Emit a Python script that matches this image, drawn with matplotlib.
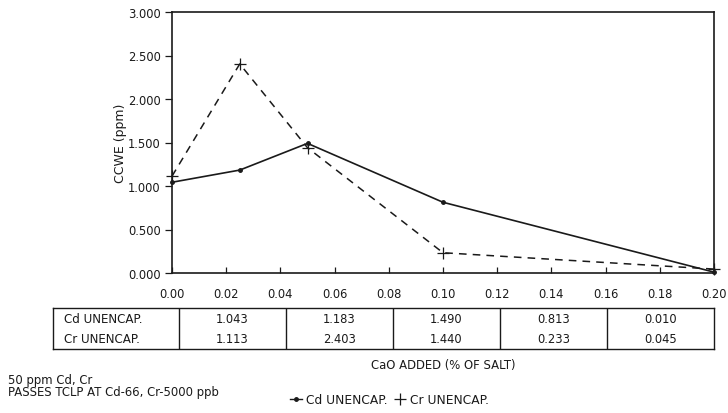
import matplotlib
matplotlib.use("Agg")
import matplotlib.pyplot as plt
from matplotlib.lines import Line2D

cao_added = [0.0, 0.025, 0.05, 0.10, 0.20]
cd_unencap = [1.043, 1.183, 1.490, 0.813, 0.010]
cr_unencap = [1.113, 2.403, 1.440, 0.233, 0.045]
x_ticks = [0.00, 0.02, 0.04, 0.06, 0.08, 0.10, 0.12, 0.14, 0.16, 0.18, 0.20]
y_ticks = [0.0, 0.5, 1.0, 1.5, 2.0, 2.5, 3.0]
table_rows = ["Cd UNENCAP.", "Cr UNENCAP."]

plt.rcParams['font.family'] = ['DejaVu Sans']
ink = '#1a1a1a'

W, H = 728, 414
fig = plt.figure(figsize=(W / 100, H / 100), dpi=100)

# main plot area (pixel box converted to figure fractions)
left, right, top, bottom = 172, 714, 13, 274
ax = fig.add_axes([left / W, 1 - bottom / H, (right - left) / W, (bottom - top) / H])

ax.plot(cao_added, cd_unencap, color=ink, lw=1.2, marker='o', ms=2.5,
        clip_on=False, zorder=3)
ax.plot(cao_added, cr_unencap, color=ink, lw=1.1, ls=(0, (5, 4)), marker='+',
        ms=9, mew=0.9, clip_on=False, zorder=3)

ax.set_xlim(0, 0.2)
ax.set_ylim(0, 3.0)
ax.set_xticks(x_ticks)
ax.set_xticklabels([f"{t:.2f}" for t in x_ticks])
ax.set_yticks(y_ticks)
ax.set_yticklabels([f"{t:.3f}" for t in y_ticks])
ax.tick_params(axis='x', direction='in', length=4, width=0.9, pad=10,
               labelsize=8.3, colors=ink)
ax.tick_params(axis='y', direction='out', length=5, width=0.9, pad=3,
               labelsize=8.3, colors=ink)
for s in ax.spines.values():
    s.set_color(ink)
    s.set_linewidth(1.2)
ax.set_ylabel("CCWE (ppm)", fontsize=9, color=ink, labelpad=1)

# data table below the plot: label column + one column per point, no row rule
t_left, t_right, t_top, t_bottom = 53, 714, 309, 350
tax = fig.add_axes([t_left / W, 1 - t_bottom / H, (t_right - t_left) / W,
                    (t_bottom - t_top) / H])
tax.set_xlim(0, 1)
tax.set_ylim(0, 2)
tax.set_xticks([])
tax.set_yticks([])
for s in tax.spines.values():
    s.set_color(ink)
    s.set_linewidth(1.0)
lab_w = (179 - t_left) / (t_right - t_left)
col_w = (1 - lab_w) / len(cao_added)
bounds = [lab_w + i * col_w for i in range(len(cao_added))]
for b in bounds:
    tax.axvline(b, color=ink, lw=1.0)
for r, (name, vals) in enumerate(zip(table_rows, [cd_unencap, cr_unencap])):
    yy = 1.5 - r
    tax.text(0.016, yy, name, ha='left', va='center', fontsize=8.6, color=ink)
    for i, v in enumerate(vals):
        tax.text(bounds[i] + col_w / 2, yy, f"{v:.3f}", ha='center',
                 va='center', fontsize=8.3, color=ink)

fig.text((left + right) / 2 / W, 1 - 366 / H, "CaO ADDED (% OF SALT)",
         ha='center', va='center', fontsize=8.4, color=ink)
fig.text(8 / W, 1 - 381 / H, "50 ppm Cd, Cr", ha='left', va='center',
         fontsize=8.4, color=ink)
fig.text(8 / W, 1 - 393 / H, "PASSES TCLP AT Cd-66, Cr-5000 ppb", ha='left',
         va='center', fontsize=8.4, color=ink)

handles = [Line2D([], [], color=ink, lw=1.0, marker='o', ms=2.5),
           Line2D([], [], color=ink, ls='none', marker='+', ms=9, mew=0.9)]
fig.legend(handles, table_rows, loc='center left',
           bbox_to_anchor=(290 / W, 1 - 401 / H), ncol=2, frameon=False,
           fontsize=8.8, handlelength=1.0, handletextpad=0.3,
           columnspacing=0.5, borderpad=0, borderaxespad=0,
           labelcolor=ink)

fig.savefig("out.png", dpi=100, facecolor='white')
